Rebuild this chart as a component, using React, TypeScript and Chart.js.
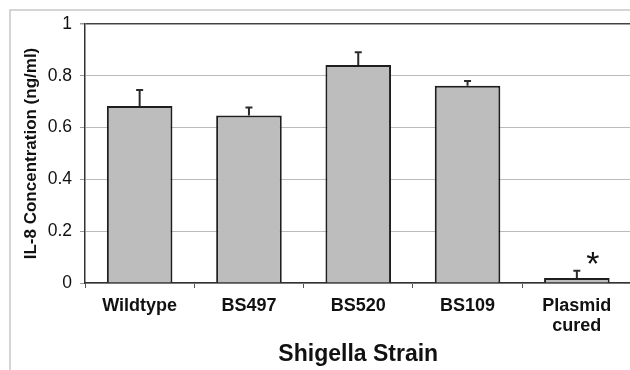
import React, { useEffect, useRef } from "react";
import { Chart, registerables } from "chart.js";

Chart.register(...registerables);

const strains = ["Wildtype", "BS497", "BS520", "BS109", ["Plasmid", "cured"]];
const il8Values = [0.683, 0.647, 0.842, 0.762, 0.019];
const il8Errors = [0.062, 0.031, 0.049, 0.018, 0.028];
const significance = ["", "", "", "", "*"];
const yTicks = [0, 0.2, 0.4, 0.6, 0.8, 1];

const FONT = "'Liberation Sans', Arial, Helvetica, sans-serif";

const framePlugin = {
  id: "frame",
  beforeDraw(chart: any) {
    const ctx = chart.ctx;
    ctx.save();
    ctx.fillStyle = "#ffffff";
    ctx.fillRect(0, 0, chart.width, chart.height);
    ctx.strokeStyle = "#c8c8c8";
    ctx.lineWidth = 1.5;
    ctx.strokeRect(10, 10, chart.width + 20, chart.height + 20);
    ctx.restore();
  },
};

const errorPlugin = {
  id: "errorBars",
  afterDatasetsDraw(chart: any) {
    const ctx = chart.ctx;
    const meta = chart.getDatasetMeta(0);
    const yScale = chart.scales.y;
    ctx.save();
    ctx.strokeStyle = "#2a2a2a";
    ctx.lineWidth = 2;
    meta.data.forEach((bar: any, i: number) => {
      const top = yScale.getPixelForValue(il8Values[i] + il8Errors[i]);
      ctx.beginPath();
      ctx.moveTo(bar.x, bar.y);
      ctx.lineTo(bar.x, top);
      ctx.moveTo(bar.x - 3.5, top);
      ctx.lineTo(bar.x + 3.5, top);
      ctx.stroke();
      if (significance[i]) {
        ctx.fillStyle = "#111";
        ctx.font = `34px ${FONT}`;
        ctx.textAlign = "center";
        ctx.textBaseline = "alphabetic";
        ctx.fillText(significance[i], bar.x + 16, top + 4);
      }
    });
    ctx.restore();
  },
};

export default function App() {
  const ref = useRef<HTMLCanvasElement | null>(null);

  useEffect(() => {
    if (!ref.current) return;
    const chart = new Chart(ref.current, {
      type: "bar",
      data: {
        labels: strains as any,
        datasets: [
          {
            data: il8Values,
            backgroundColor: "#bdbdbd",
            borderColor: "#1e1e1e",
            borderWidth: 2,
            barPercentage: 0.6,
            categoryPercentage: 1,
          },
        ],
      },
      options: {
        responsive: false,
        animation: false,
        devicePixelRatio: 1,
        layout: { padding: { left: 0, top: 24, right: 8.5, bottom: 0 } },
        plugins: { legend: { display: false }, tooltip: { enabled: false } },
        scales: {
          x: {
            afterFit: (s: any) => {
              s.height = 87;
            },
            grid: {
              display: true,
              drawOnChartArea: false,
              drawTicks: true,
              tickLength: 5,
              offset: true,
              tickColor: "#555",
            },
            border: { display: true, color: "#333", width: 1.5 },
            ticks: {
              color: "#111",
              font: { family: FONT, size: 18, weight: "bold", lineHeight: 1.1 },
              padding: 8,
              maxRotation: 0,
              autoSkip: false,
            },
            title: {
              display: true,
              text: "Shigella Strain",
              color: "#111",
              font: { family: FONT, size: 23, weight: "bold", lineHeight: 1.2 },
              padding: { top: 0, bottom: 2 },
            },
          },
          y: {
            min: 0,
            max: 1,
            afterFit: (s: any) => {
              s.width = 85;
            },
            afterBuildTicks: (s: any) => {
              s.ticks = yTicks.map((v) => ({ value: v }));
            },
            grid: {
              color: (c: any) => (c.tick && c.tick.value === 1 ? "#444" : "#bbbbbb"),
              lineWidth: (c: any) => (c.tick && c.tick.value === 1 ? 1.5 : 1),
              tickLength: 5,
              tickColor: "#999",
            },
            border: { display: true, color: "#333", width: 1.5 },
            ticks: {
              color: "#111",
              font: { family: FONT, size: 17.5 },
              padding: 8,
              callback: (v: any) => String(v),
            },
            title: {
              display: true,
              text: "IL-8 Concentration (ng/ml)",
              color: "#111",
              font: { family: FONT, size: 17, weight: "bold", lineHeight: 1.2 },
              padding: { top: 21, bottom: 0 },
            },
          },
        },
      },
      plugins: [framePlugin, errorPlugin],
    });
    return () => chart.destroy();
  }, []);

  return (
    <div
      style={{
        position: "absolute",
        left: 0,
        top: 0,
        width: 630,
        height: 370,
        overflow: "hidden",
        background: "#fff",
      }}
    >
      <canvas ref={ref} width={640} height={370} style={{ display: "block" }} />
    </div>
  );
}
